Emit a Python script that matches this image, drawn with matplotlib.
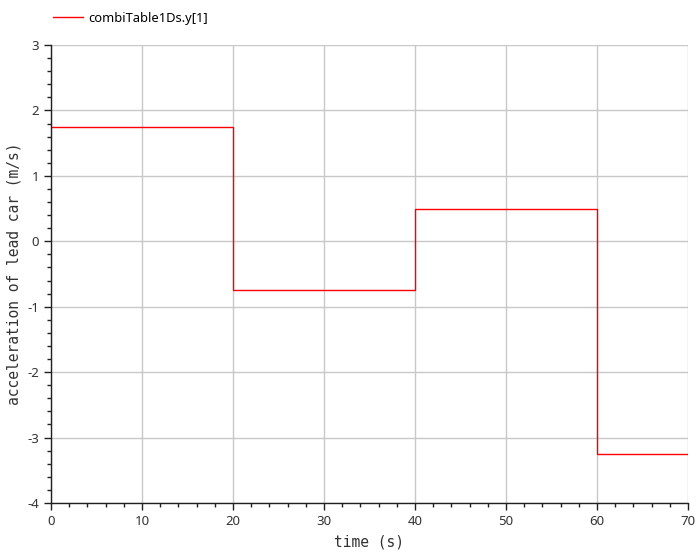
import matplotlib
matplotlib.use('Agg')
import matplotlib.pyplot as plt
from matplotlib.ticker import MultipleLocator

plt.rcParams['axes.unicode_minus'] = False

# step signal: breakpoints and values
time = [0, 20, 20, 40, 40, 60, 60, 70]
accel = [1.75, 1.75, -0.75, -0.75, 0.5, 0.5, -3.25, -3.25]

xticks = [0, 10, 20, 30, 40, 50, 60, 70]
yticks = [-4, -3, -2, -1, 0, 1, 2, 3]

fig = plt.figure(figsize=(6.96, 5.52), dpi=100)
ax = fig.add_axes([51/696, 1-503/552, (688-51)/696, (503-45)/552])

line, = ax.plot(time, accel, color='red', linewidth=1.0)

ax.set_xlim(0, 70)
ax.set_ylim(-4, 3)
ax.set_xticks(xticks)
ax.set_yticks(yticks)
ax.xaxis.set_minor_locator(MultipleLocator(2))
ax.yaxis.set_minor_locator(MultipleLocator(0.2))
ax.grid(True, which='major', color='#c8c8c8', linewidth=1.0)
ax.set_axisbelow(True)

for s in ['top', 'right']:
    ax.spines[s].set_visible(False)
for s in ['left', 'bottom']:
    ax.spines[s].set_linewidth(1.0)
    ax.spines[s].set_color('#202020')

ax.tick_params(which='major', direction='out', length=5, width=1, colors='#202020',
               labelsize=9.5)
ax.tick_params(which='minor', direction='out', length=3, width=1, colors='#202020')
for lbl in ax.get_xticklabels() + ax.get_yticklabels():
    lbl.set_family('Noto Sans')
    lbl.set_color('#333333')

ax.set_xlabel('time (s)', family='DejaVu Sans Mono', fontsize=10.5, color='#333333',
              labelpad=5)
ax.set_ylabel('acceleration of lead car (m/s)', family='DejaVu Sans Mono', fontsize=10.5,
              color='#333333')

fig.legend([line], ['combiTable1Ds.y[1]'], loc='upper left',
           bbox_to_anchor=(53/696, 1-12/552), borderpad=0, borderaxespad=0,
           frameon=False, prop={'family': 'Noto Sans', 'size': 9.3},
           handlelength=2.3, handletextpad=0.4)

fig.savefig('out.png', dpi=100)
